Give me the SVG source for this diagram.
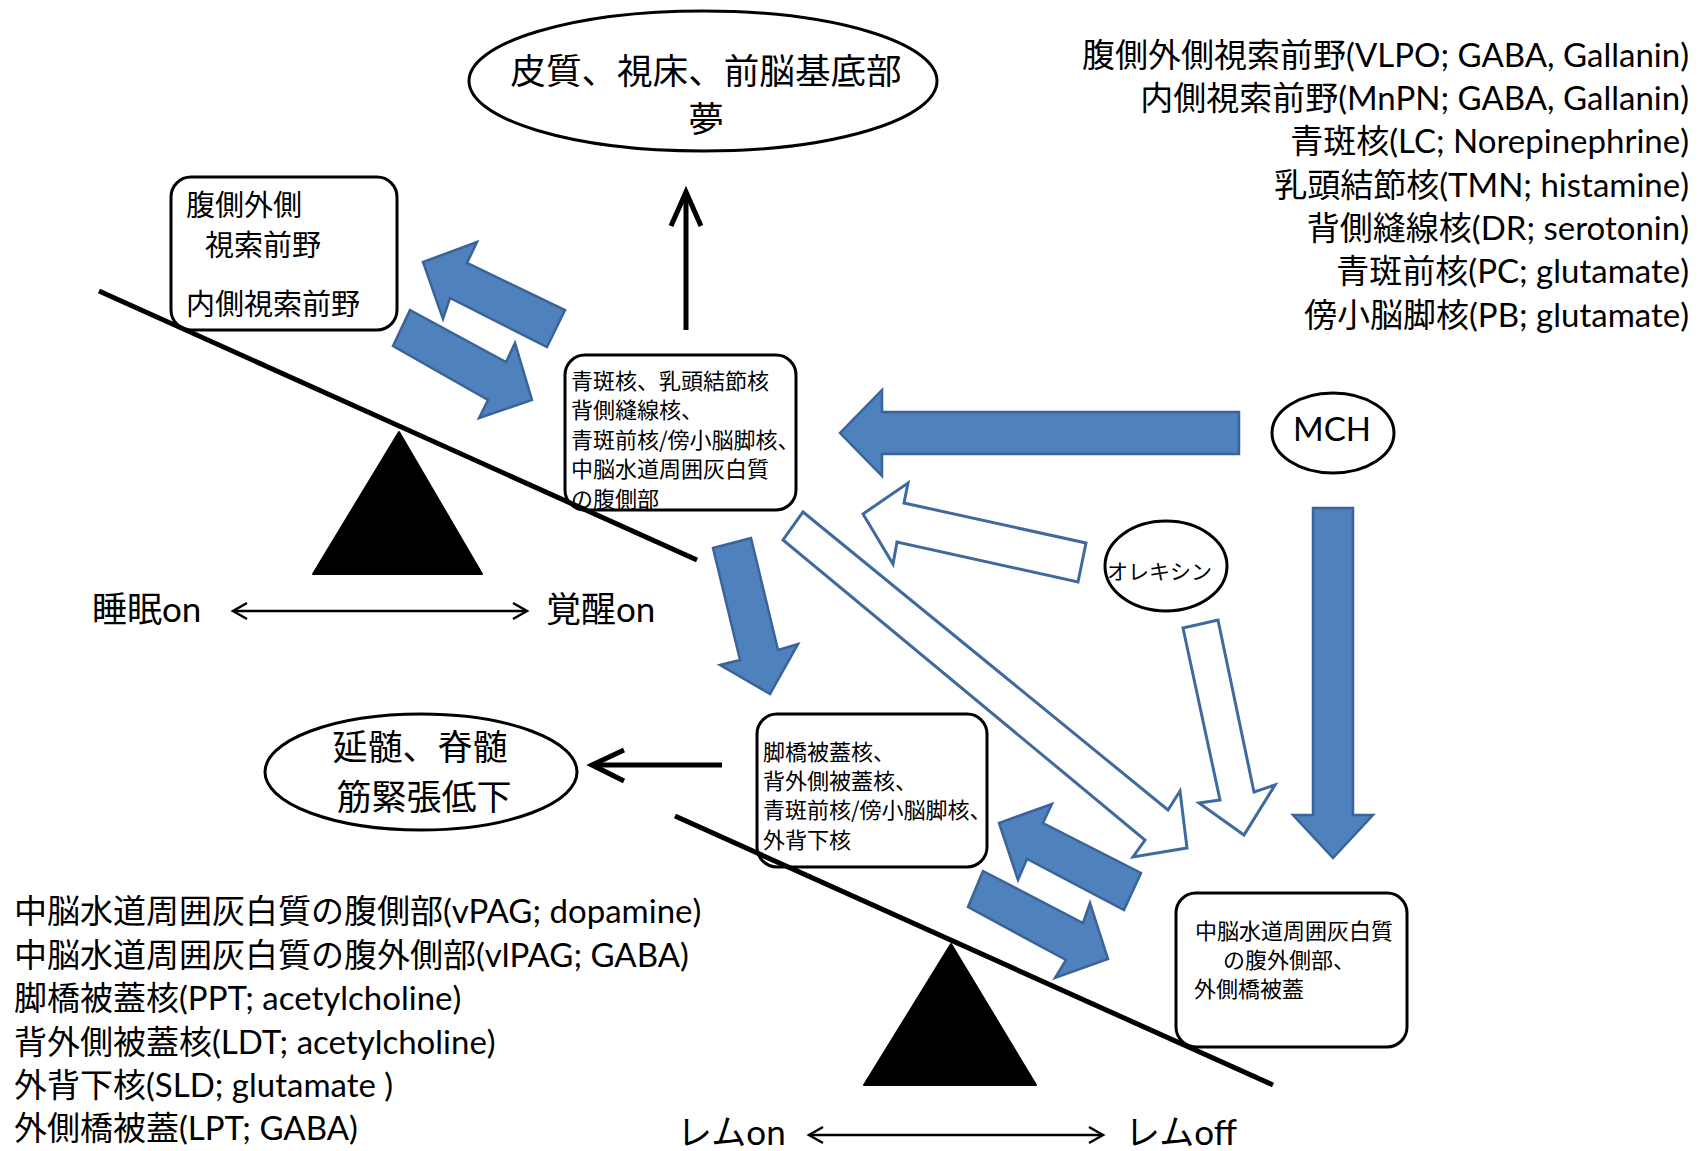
<svg xmlns="http://www.w3.org/2000/svg" width="1698" height="1151" viewBox="0 0 1698 1151">
<style>
.bg{fill:#ffffff}
.node{fill:#ffffff;stroke:#000000;stroke-width:3}
.jp{font-family:'Noto Sans CJK JP',sans-serif;fill:#000000}
.mix{font-family:Lato,'Noto Sans CJK JP',sans-serif;fill:#000000}
.blue{fill:#4F81BD;stroke:#3A639A;stroke-width:2.5;stroke-linejoin:miter}
.hollow{fill:#ffffff;stroke:#3F6A9E;stroke-width:3;stroke-linejoin:miter}
.blk{fill:none;stroke:#000000;stroke-width:5;stroke-linecap:butt}
.thin{fill:none;stroke:#000000;stroke-width:2.5}
.bar{fill:none;stroke:#000000;stroke-width:5}
</style>
<rect class="bg" x="0" y="0" width="1698" height="1151"/>

<g id="legend-top" class="mix" font-size="33" text-anchor="end">
<text x="1689" y="67">腹側外側視索前野(VLPO; GABA, Gallanin)</text>
<text x="1689" y="110">内側視索前野(MnPN; GABA, Gallanin)</text>
<text x="1689" y="153">青斑核(LC; Norepinephrine)</text>
<text x="1689" y="197">乳頭結節核(TMN; histamine)</text>
<text x="1689" y="240">背側縫線核(DR; serotonin)</text>
<text x="1689" y="283">青斑前核(PC; glutamate)</text>
<text x="1689" y="327">傍小脳脚核(PB; glutamate)</text>
</g>

<g id="legend-bottom" class="mix" font-size="33">
<text x="14" y="923">中脳水道周囲灰白質の腹側部(vPAG; dopamine)</text>
<text x="14" y="967">中脳水道周囲灰白質の腹外側部(vlPAG; GABA)</text>
<text x="14" y="1010">脚橋被蓋核(PPT; acetylcholine)</text>
<text x="14" y="1054">背外側被蓋核(LDT; acetylcholine)</text>
<text x="14" y="1097">外背下核(SLD; glutamate )</text>
<text x="14" y="1140">外側橋被蓋(LPT; GABA)</text>
</g>

<g id="cortex">
<ellipse class="node" cx="703" cy="81" rx="234" ry="70"/>
<text class="jp" x="706" y="84" font-size="35.6" text-anchor="middle">皮質、視床、前脳基底部</text>
<text class="jp" x="706" y="132" font-size="35.6" text-anchor="middle">夢</text>
</g>

<g id="vlpo-box">
<rect class="node" x="171" y="177" width="226" height="153" rx="20" ry="20"/>
<text class="jp" font-size="29" x="186" y="216">腹側外側</text>
<text class="jp" font-size="29" x="205" y="256">視索前野</text>
<text class="jp" font-size="29" x="186" y="315">内側視索前野</text>
</g>

<g id="wake-box">
<rect class="node" x="565" y="355" width="231" height="155" rx="20" ry="20"/>
<g class="jp" font-size="22">
<text x="571" y="389">青斑核、乳頭結節核</text>
<text x="571" y="418">背側縫線核、</text>
<text x="571" y="448">青斑前核/傍小脳脚核、</text>
<text x="571" y="477">中脳水道周囲灰白質</text>
<text x="571" y="507">の腹側部</text>
</g>
</g>

<g id="mch">
<ellipse class="node" cx="1333" cy="433" rx="61" ry="40"/>
<text x="1332" y="441" font-family="Lato,'Open Sans',sans-serif" font-size="33" text-anchor="middle">MCH</text>
</g>

<g id="orexin">
<ellipse class="node" cx="1166" cy="566" rx="61" ry="45"/>
<text class="jp" x="1107" y="579" font-size="21">オレキシン</text>
</g>

<g id="medulla">
<ellipse class="node" cx="421" cy="772" rx="156" ry="58"/>
<text class="jp" x="420" y="760" font-size="35" text-anchor="middle">延髄、脊髄</text>
<text class="jp" x="424" y="810" font-size="35" text-anchor="middle">筋緊張低下</text>
</g>

<g id="rem-on-box">
<rect class="node" x="757" y="714" width="230" height="153" rx="20" ry="20"/>
<g class="jp" font-size="22">
<text x="763" y="760">脚橋被蓋核、</text>
<text x="763" y="789">背外側被蓋核、</text>
<text x="763" y="818">青斑前核/傍小脳脚核、</text>
<text x="763" y="848">外背下核</text>
</g>
</g>

<g id="rem-off-box">
<rect class="node" x="1176" y="893" width="231" height="154" rx="20" ry="20"/>
<g class="jp" font-size="22">
<text x="1195" y="939">中脳水道周囲灰白質</text>
<text x="1223" y="968">の腹外側部、</text>
<text x="1194" y="997">外側橋被蓋</text>
</g>
</g>

<g id="seesaw-top">
<polygon points="399,432 313,574 482,574" fill="#000000" stroke="#000000" stroke-width="2" stroke-linejoin="round"/>
<line class="bar" x1="99" y1="291" x2="697" y2="560"/>
</g>

<g id="seesaw-bottom">
<polygon points="951,944 864,1085 1036,1085" fill="#000000" stroke="#000000" stroke-width="2" stroke-linejoin="round"/>
<line class="bar" x1="675" y1="816" x2="1273" y2="1085"/>
</g>

<g id="labels">
<text class="mix" x="92" y="622" font-size="35">睡眠on</text>
<text class="mix" x="546" y="622" font-size="35">覚醒on</text>
<text class="mix" x="677" y="1145" font-size="35">レムon</text>
<text class="mix" x="1125" y="1145" font-size="35">レムoff</text>
</g>

<g id="connectors">
<line class="blk" x1="686" y1="330" x2="686" y2="194"/>
<polyline class="blk" points="671,226 686,192 701,226" stroke-linejoin="miter"/>
<line class="blk" x1="722" y1="765" x2="594" y2="765"/>
<polyline class="blk" points="624,750 592,765 624,781" stroke-linejoin="miter"/>
<line class="thin" x1="234" y1="611" x2="526" y2="611"/>
<polyline class="thin" points="247,603 233,611 247,619"/>
<polyline class="thin" points="513,603 527,611 513,619"/>
<line class="thin" x1="810" y1="1135" x2="1102" y2="1135"/>
<polyline class="thin" points="823,1127 809,1135 823,1143"/>
<polyline class="thin" points="1089,1127 1103,1135 1089,1143"/>
<polygon class="blue" points="547,347 565,310 467,263 477,242 423,262 443,319 450,298"/>
<polygon class="blue" points="410,310 506,362 515,343 532,400 479,418 488,400 393,346"/>
<polygon class="blue" points="713,548 751,538 778,650 798,644 770,694 720,665 740,660"/>
<polygon class="blue" points="1239,412 1239,454 882,454 882,476 840,433 882,390 882,412"/>
<polygon class="blue" points="1313,508 1353,508 1353,815 1373,815 1333,858 1293,815 1313,815"/>
<polygon class="blue" points="1124,910 1141,873 1043,823 1052,804 999,823 1018,880 1027,859"/>
<polygon class="blue" points="983,871 1083,923 1090,903 1108,959 1055,978 1066,960 968,907"/>
<polygon class="hollow" points="1086,543 1078,582 897,542 893,564 863,514 908,483 904,503"/>
<polygon class="hollow" points="803,512 1168,810 1180,791 1187,848 1133,857 1145,840 783,540"/>
<polygon class="hollow" points="1183,628 1218,620 1254,792 1275,785 1244,835 1199,803 1220,800"/>
</g>
</svg>
